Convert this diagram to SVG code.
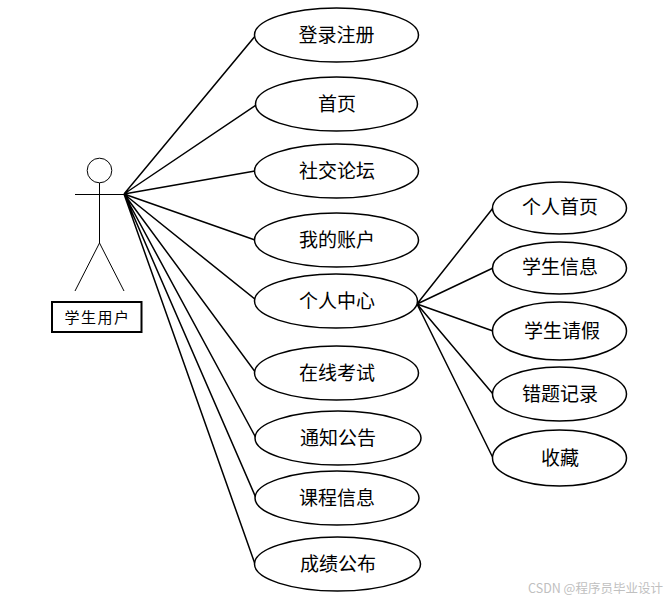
<svg xmlns="http://www.w3.org/2000/svg" width="670" height="603" viewBox="0 0 670 603">
<style>
.l{stroke:#000;stroke-width:1.5;fill:none}
.a{stroke:#000;stroke-width:1;fill:none}
.e{stroke:#000;stroke-width:1.5;fill:#fff}
.t{font-family:"Noto Sans CJK SC","Liberation Sans",sans-serif;font-size:19px;text-anchor:middle;fill:#000}
</style>
<rect width="670" height="603" fill="#fff"/>
<g id="connectors" class="l">
<path d="M124 194L256 35M124 194L256 105M124 194L255 171M124 194L255 240M124 194L256 300M124 194L256 373M124 194L256 438M124 194L256 498M124 194L255 564"/>
<path d="M417 304L493 208M417 304L493 268M417 304L493 331M417 304L493 394M417 304L493 458"/>
</g>
<g id="actor" class="a">
<circle cx="99.500" cy="170.500" r="12.300"/>
<path d="M99.500 183V243M75 194.500H124M99.500 243L75 291M99.500 243L124 291"/>
</g>
<g id="actor-label"><rect x="52" y="302" width="89.500" height="30" fill="#fff" stroke="#000" stroke-width="2"/><text x="97.500" y="323" font-family="Noto Sans CJK SC,sans-serif" font-size="15" text-anchor="middle" letter-spacing="1.500">学生用户</text></g>
<g id="n1"><ellipse class="e" cx="336.500" cy="35" rx="82" ry="27"/><text class="t" x="336.500" y="42">登录注册</text></g>
<g id="n2"><ellipse class="e" cx="336.500" cy="104" rx="81" ry="27"/><text class="t" x="337" y="111">首页</text></g>
<g id="n3"><ellipse class="e" cx="336.500" cy="171" rx="82" ry="27"/><text class="t" x="337" y="178">社交论坛</text></g>
<g id="n4"><ellipse class="e" cx="336.500" cy="240" rx="82" ry="27"/><text class="t" x="337" y="247">我的账户</text></g>
<g id="n5"><ellipse class="e" cx="336" cy="301" rx="81.500" ry="27"/><text class="t" x="337" y="308">个人中心</text></g>
<g id="n6"><ellipse class="e" cx="336.500" cy="373" rx="82" ry="27"/><text class="t" x="337" y="380">在线考试</text></g>
<g id="n7"><ellipse class="e" cx="338" cy="438" rx="83" ry="27"/><text class="t" x="338" y="445">通知公告</text></g>
<g id="n8"><ellipse class="e" cx="337" cy="498" rx="82" ry="27"/><text class="t" x="337" y="505">课程信息</text></g>
<g id="n9"><ellipse class="e" cx="337.500" cy="564" rx="83" ry="27"/><text class="t" x="338" y="571">成绩公布</text></g>
<g id="s1"><ellipse class="e" cx="559.500" cy="208" rx="67" ry="26"/><text class="t" x="560" y="214">个人首页</text></g>
<g id="s2"><ellipse class="e" cx="559.500" cy="268" rx="67" ry="26"/><text class="t" x="560" y="274">学生信息</text></g>
<g id="s3"><ellipse class="e" cx="559.500" cy="331" rx="67" ry="29"/><text class="t" x="562" y="338">学生请假</text></g>
<g id="s4"><ellipse class="e" cx="559.500" cy="394" rx="67" ry="27"/><text class="t" x="560" y="401">错题记录</text></g>
<g id="s5"><ellipse class="e" cx="559.500" cy="458" rx="67" ry="28"/><text class="t" x="560" y="465">收藏</text></g>
<text x="595.500" y="593" font-family="Noto Sans CJK SC,sans-serif" font-size="12.500" text-anchor="middle" fill="#c0c0c0">CSDN @程序员毕业设计</text>
</svg>
